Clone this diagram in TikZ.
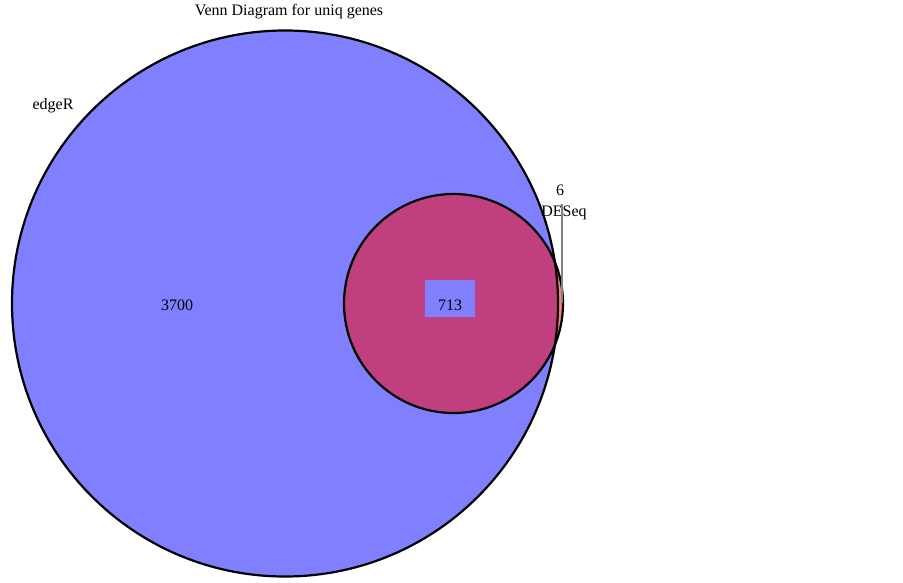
\documentclass[tikz,border=0pt]{standalone}
\usepackage{fontspec}
\setmainfont{Liberation Serif}
\definecolor{vblue}{RGB}{128,128,255}
\tikzset{
  lbl/.style={font=\fontsize{16}{19}\selectfont, inner sep=0pt, text=black},
  setline/.style={draw=black, line width=2.2pt},
}
\begin{document}
\begin{tikzpicture}[x=1pt,y=-1pt]
\useasboundingbox (0,0) rectangle (903,582);
\fill[white] (0,0) rectangle (903,582);
% sets
\fill[vblue] (285,303.5) circle (273);
\fill[red, fill opacity=0.5] (453.5,303.5) circle (109.5);
\draw[setline] (285,303.5) circle (273);
\draw[setline] (453.5,303.5) circle (109.5);
% labels
\node[lbl] (title) at (289,12) {Venn Diagram for uniq genes};
\node[lbl] (edger) at (53,106) {edgeR};
\node[lbl] (a) at (177,305) {3700};
\node[fill=vblue, minimum width=50pt, minimum height=37pt, inner sep=0pt] (box) at (450,298.5) {};
\node[lbl] at (450,305) (b) {713};
\node[lbl] (c) at (560,190) {6};
\node[lbl] (deseq) at (564,213) {DESeq};
\coordinate (ltop) at (562,204);
\coordinate (lbot) at (562,303);
\draw[gray, line width=1.2pt] (ltop) -- (lbot);
\end{tikzpicture}
\end{document}
